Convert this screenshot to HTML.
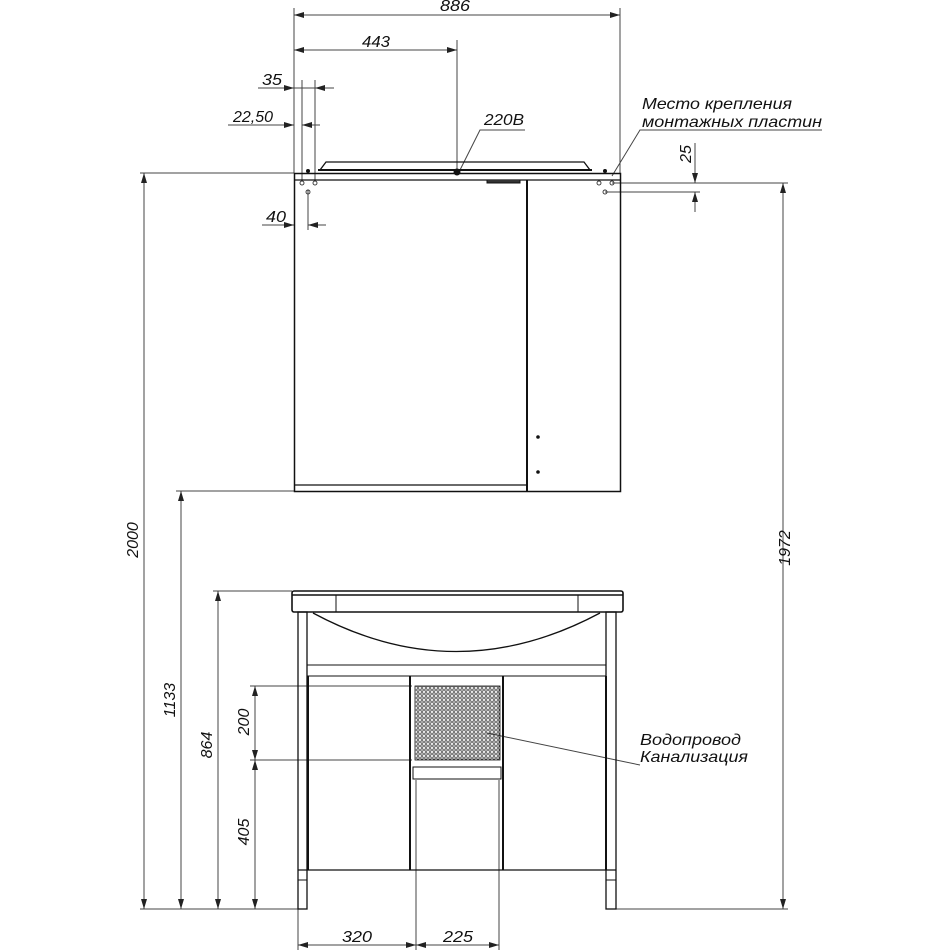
<!DOCTYPE html>
<html><head><meta charset="utf-8"><style>body{margin:0;background:#fff}svg{display:block}text{font-family:"Liberation Sans",sans-serif;font-style:italic;font-size:16px;fill:#111}</style></head><body>
<svg width="950" height="950" viewBox="0 0 950 950" xmlns="http://www.w3.org/2000/svg">
<defs>
<marker id="a" viewBox="0 0 10 6" refX="10" refY="3" markerWidth="10" markerHeight="6" orient="auto-start-reverse" markerUnits="userSpaceOnUse"><path d="M0,0L10,3L0,6z" fill="#222"/></marker>
<pattern id="m" width="4" height="4" patternUnits="userSpaceOnUse"><circle cx="2" cy="2" r="1.3" fill="none" stroke="#333" stroke-width="0.8"/></pattern>
</defs>
<g stroke="#444" stroke-width="1" fill="none">
<line x1="294" y1="8" x2="294" y2="173"/><line x1="620" y1="8" x2="620" y2="173"/><line x1="457" y1="40" x2="457" y2="170"/>
<line x1="302" y1="80" x2="302" y2="180"/><line x1="315" y1="80" x2="315" y2="180"/><line x1="308" y1="190" x2="308" y2="230"/>
<line x1="294" y1="15" x2="620" y2="15" marker-start="url(#a)" marker-end="url(#a)"/>
<line x1="294" y1="50" x2="457" y2="50" marker-start="url(#a)" marker-end="url(#a)"/>
<line x1="258" y1="88" x2="294" y2="88" marker-end="url(#a)"/><line x1="315" y1="88" x2="334" y2="88" marker-start="url(#a)"/><line x1="294" y1="88" x2="315" y2="88"/>
<line x1="228" y1="125" x2="294" y2="125"/><line x1="280" y1="125" x2="294" y2="125" marker-end="url(#a)"/><line x1="302" y1="125" x2="320" y2="125" marker-start="url(#a)"/>
<line x1="262" y1="225" x2="294" y2="225"/><line x1="280" y1="225" x2="294" y2="225" marker-end="url(#a)"/><line x1="308" y1="225" x2="326" y2="225" marker-start="url(#a)"/>
<line x1="612" y1="183" x2="788" y2="183"/><line x1="605" y1="192" x2="700" y2="192"/>
<line x1="695" y1="143" x2="695" y2="183" marker-end="url(#a)"/><line x1="695" y1="212" x2="695" y2="192" marker-end="url(#a)"/>
<polyline points="460,170 480,130 525,130"/><polyline points="612,176 640,130 822,130"/>
<line x1="140" y1="173" x2="294" y2="173"/><line x1="176" y1="491" x2="294" y2="491"/><line x1="213" y1="591" x2="292" y2="591"/>
<line x1="250" y1="686" x2="412" y2="686"/><line x1="250" y1="760" x2="412" y2="760"/>
<line x1="140" y1="909" x2="298" y2="909"/>
<line x1="144" y1="173" x2="144" y2="909" marker-start="url(#a)" marker-end="url(#a)"/>
<line x1="181" y1="491" x2="181" y2="909" marker-start="url(#a)" marker-end="url(#a)"/>
<line x1="218" y1="591" x2="218" y2="909" marker-start="url(#a)" marker-end="url(#a)"/>
<line x1="255" y1="686" x2="255" y2="760" marker-start="url(#a)" marker-end="url(#a)"/>
<line x1="255" y1="760" x2="255" y2="909" marker-start="url(#a)" marker-end="url(#a)"/>
<line x1="783" y1="183" x2="783" y2="909" marker-start="url(#a)" marker-end="url(#a)"/><line x1="616" y1="909" x2="788" y2="909"/>
<line x1="298" y1="909" x2="298" y2="950"/><line x1="416" y1="780" x2="416" y2="950"/><line x1="499" y1="780" x2="499" y2="950"/>
<line x1="298" y1="945" x2="416" y2="945" marker-start="url(#a)" marker-end="url(#a)"/>
<line x1="416" y1="945" x2="499" y2="945" marker-start="url(#a)" marker-end="url(#a)"/>
<line x1="487" y1="733" x2="640" y2="765"/>
</g>
<g stroke="#111" fill="none">
<path d="M320,170 L326,162 L584,162 L590,170" stroke-width="1.3"/>
<line x1="318" y1="170" x2="592" y2="170" stroke-width="2"/>
<rect x="294.5" y="173.5" width="326" height="318" stroke-width="1.5"/>
<line x1="294" y1="180" x2="620" y2="180" stroke-width="1.3"/>
<line x1="527" y1="180" x2="527" y2="491" stroke-width="2"/>
<line x1="294" y1="485" x2="527" y2="485" stroke-width="1.3"/>
<path d="M487,180 L487,183 L520,183 L520,180" fill="#333" stroke-width="1"/>
<rect x="292" y="591" width="331" height="21" rx="2" stroke-width="1.6"/>
<line x1="292" y1="595" x2="623" y2="595" stroke-width="1.6"/>
<line x1="336" y1="595" x2="336" y2="612"/><line x1="578" y1="595" x2="578" y2="612"/>
<path d="M313,613 Q456,690 600,613" stroke-width="1.3"/>
<rect x="298" y="612" width="9" height="297" stroke-width="1.3"/>
<rect x="606" y="612" width="10" height="297" stroke-width="1.3"/>
<line x1="307" y1="665" x2="606" y2="665"/><line x1="307" y1="676" x2="606" y2="676"/>
<line x1="308" y1="676" x2="308" y2="870" stroke-width="2"/><line x1="410" y1="676" x2="410" y2="870" stroke-width="2"/>
<line x1="503" y1="676" x2="503" y2="870" stroke-width="2"/><line x1="606" y1="676" x2="606" y2="870" stroke-width="2"/>
<line x1="298" y1="870" x2="616" y2="870" stroke-width="1.3"/>
<rect x="415" y="686" width="85" height="74" fill="url(#m)" stroke-width="0.8"/>
<rect x="413" y="767" width="88" height="12"/>
<line x1="298" y1="880" x2="307" y2="880"/><line x1="606" y1="880" x2="616" y2="880"/>
</g>
<g fill="#111"><circle cx="457" cy="172" r="3.5"/><circle cx="308" cy="171" r="2"/><circle cx="605" cy="171" r="2"/><circle cx="538" cy="437" r="1.8"/><circle cx="538" cy="472" r="1.8"/></g>
<g fill="none" stroke="#333" stroke-width="0.9"><circle cx="302" cy="183" r="2"/><circle cx="315" cy="183" r="2"/><circle cx="308" cy="192" r="2"/><circle cx="599" cy="183" r="2"/><circle cx="612" cy="183" r="2"/><circle cx="605" cy="192" r="2"/></g>
<text x="440" y="11" textLength="30" lengthAdjust="spacingAndGlyphs">886</text>
<text x="362" y="47" textLength="28" lengthAdjust="spacingAndGlyphs">443</text>
<text x="262" y="85" textLength="20" lengthAdjust="spacingAndGlyphs">35</text>
<text x="233" y="122" textLength="40" lengthAdjust="spacingAndGlyphs">22,50</text>
<text x="266" y="222" textLength="20" lengthAdjust="spacingAndGlyphs">40</text>
<text x="484" y="125" textLength="40" lengthAdjust="spacingAndGlyphs">220B</text>
<text x="642" y="109" textLength="150" lengthAdjust="spacingAndGlyphs">Место крепления</text>
<text x="642" y="127" textLength="180" lengthAdjust="spacingAndGlyphs">монтажных пластин</text>
<text x="640" y="745" textLength="101" lengthAdjust="spacingAndGlyphs">Водопровод</text>
<text x="640" y="762" textLength="108" lengthAdjust="spacingAndGlyphs">Канализация</text>
<text transform="translate(691,154) rotate(-90)" text-anchor="middle">25</text>
<text transform="translate(138,540) rotate(-90)" text-anchor="middle">2000</text>
<text transform="translate(175,700) rotate(-90)" text-anchor="middle">1133</text>
<text transform="translate(212,745) rotate(-90)" text-anchor="middle">864</text>
<text transform="translate(249,722) rotate(-90)" text-anchor="middle">200</text>
<text transform="translate(249,832) rotate(-90)" text-anchor="middle">405</text>
<text transform="translate(790,548) rotate(-90)" text-anchor="middle">1972</text>
<text x="342" y="942" textLength="30" lengthAdjust="spacingAndGlyphs">320</text>
<text x="443" y="942" textLength="30" lengthAdjust="spacingAndGlyphs">225</text>
</svg>
</body></html>
